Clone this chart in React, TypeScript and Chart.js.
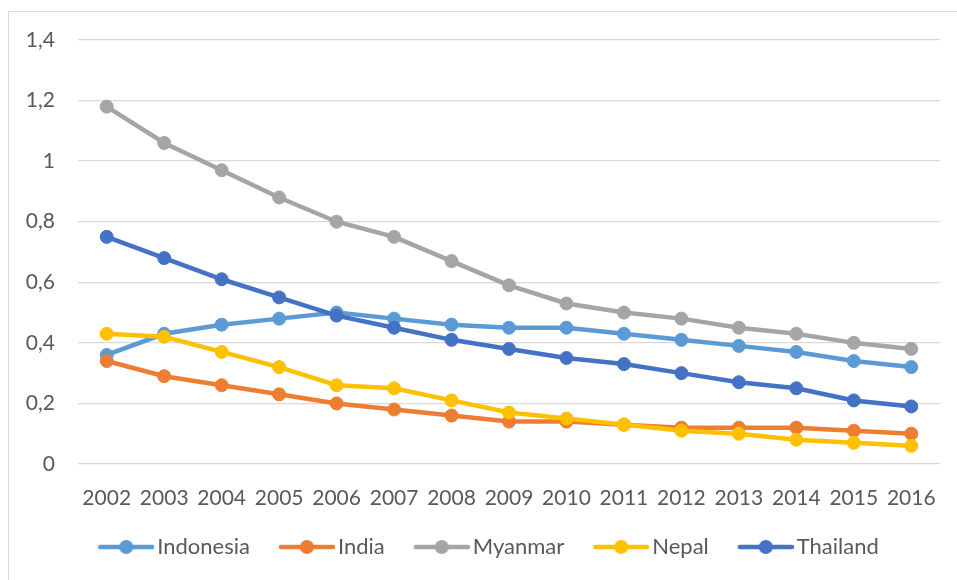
import React, { useEffect, useRef } from "react";
import { Chart, registerables } from "chart.js";

Chart.register(...registerables);

const years = ["2002", "2003", "2004", "2005", "2006", "2007", "2008", "2009", "2010", "2011", "2012", "2013", "2014", "2015", "2016"];
const indonesia = [0.36, 0.43, 0.46, 0.48, 0.5, 0.48, 0.46, 0.45, 0.45, 0.43, 0.41, 0.39, 0.37, 0.34, 0.32];
const india = [0.34, 0.29, 0.26, 0.23, 0.2, 0.18, 0.16, 0.14, 0.14, 0.13, 0.12, 0.12, 0.12, 0.11, 0.1];
const myanmar = [1.18, 1.06, 0.97, 0.88, 0.8, 0.75, 0.67, 0.59, 0.53, 0.5, 0.48, 0.45, 0.43, 0.4, 0.38];
const nepal = [0.43, 0.42, 0.37, 0.32, 0.26, 0.25, 0.21, 0.17, 0.15, 0.13, 0.11, 0.1, 0.08, 0.07, 0.06];
const thailand = [0.75, 0.68, 0.61, 0.55, 0.49, 0.45, 0.41, 0.38, 0.35, 0.33, 0.3, 0.27, 0.25, 0.21, 0.19];

const seriesNames = ["Indonesia", "India", "Myanmar", "Nepal", "Thailand"];
const seriesColors = ["#5B9BD5", "#ED7D31", "#A5A5A5", "#FFC000", "#4472C4"];
const seriesValues = [indonesia, india, myanmar, nepal, thailand];

const yTickLabels = ["0", "0,2", "0,4", "0,6", "0,8", "1", "1,2", "1,4"];

const FONT = "Lato";
const TEXT_COLOR = "#595959";
const LEGEND_BOX_W = 47;
const LEGEND_SHIFT = 19;

function makeLegendIcon(color: string): HTMLCanvasElement {
  // Image is centred on the legend box; the visible line sits from px 7 to 63.
  const c = document.createElement("canvas");
  c.width = 63;
  c.height = 16;
  const ctx = c.getContext("2d")!;
  ctx.strokeStyle = color;
  ctx.lineWidth = 4.5;
  ctx.lineCap = "round";
  ctx.beginPath();
  ctx.moveTo(9, 8);
  ctx.lineTo(61, 8);
  ctx.stroke();
  ctx.fillStyle = color;
  ctx.beginPath();
  ctx.arc(35, 8, 7, 0, Math.PI * 2);
  ctx.fill();
  return c;
}

const shiftLegend = {
  id: "shiftLegend",
  afterLayout(chart: any) {
    if (chart.legend) {
      chart.legend.left += LEGEND_SHIFT;
      chart.legend.right += LEGEND_SHIFT;
    }
  },
};

export default function App() {
  const canvasRef = useRef<HTMLCanvasElement | null>(null);

  useEffect(() => {
    if (!canvasRef.current) return;
    const icons = seriesColors.map((c) => makeLegendIcon(c));
    const chart = new Chart(canvasRef.current, {
      type: "line",
      data: {
        labels: years,
        datasets: seriesNames.map((name, i) => ({
          label: name,
          data: seriesValues[i],
          borderColor: seriesColors[i],
          backgroundColor: seriesColors[i],
          pointBackgroundColor: seriesColors[i],
          pointBorderColor: seriesColors[i],
          pointBorderWidth: 1,
          pointRadius: 6.5,
          borderWidth: 4.5,
          tension: 0,
          fill: false,
          order: seriesNames.length - i,
        })),
      },
      plugins: [shiftLegend],
      options: {
        responsive: false,
        animation: false,
        layout: { padding: { left: 0, right: 17, top: 40, bottom: 12 } },
        plugins: {
          tooltip: { enabled: false },
          legend: {
            position: "bottom",
            labels: {
              usePointStyle: true,
              pointStyleWidth: LEGEND_BOX_W,
              padding: 30,
              color: TEXT_COLOR,
              font: { family: FONT, size: 22 },
              generateLabels: () =>
                seriesNames.map((name, i) => ({
                  text: name,
                  fillStyle: seriesColors[i],
                  strokeStyle: seriesColors[i],
                  lineWidth: 0,
                  pointStyle: icons[i],
                  datasetIndex: i,
                  hidden: false,
                  fontColor: TEXT_COLOR,
                })),
            },
          },
        },
        scales: {
          x: {
            offset: true,
            grid: { display: false },
            border: { display: false },
            ticks: {
              color: TEXT_COLOR,
              font: { family: FONT, size: 21 },
              padding: 14,
              maxRotation: 0,
              autoSkip: false,
            },
            afterFit: (s: any) => {
              s.height = 42;
            },
          },
          y: {
            min: 0,
            max: 1.4,
            border: { display: false },
            grid: { color: "#d9d9d9", lineWidth: 1.3, drawTicks: false },
            ticks: {
              stepSize: 0.2,
              padding: 23,
              color: TEXT_COLOR,
              font: { family: FONT, size: 21 },
              callback: (value: any) => {
                const idx = Math.round(Number(value) / 0.2);
                return yTickLabels[idx] ?? "";
              },
            },
            afterFit: (s: any) => {
              s.width = 78;
            },
          },
        },
      },
    });
    return () => chart.destroy();
  }, []);

  return (
    <div style={{ position: "absolute", left: 0, top: 0, width: 957, height: 580, overflow: "hidden", background: "#fff" }}>
      <div style={{ position: "absolute", left: 8, top: 11, width: 1200, height: 1200, border: "1px solid #d9d9d9" }} />
      <canvas ref={canvasRef} width={957} height={580} style={{ position: "absolute", left: 0, top: 0 }} />
    </div>
  );
}
